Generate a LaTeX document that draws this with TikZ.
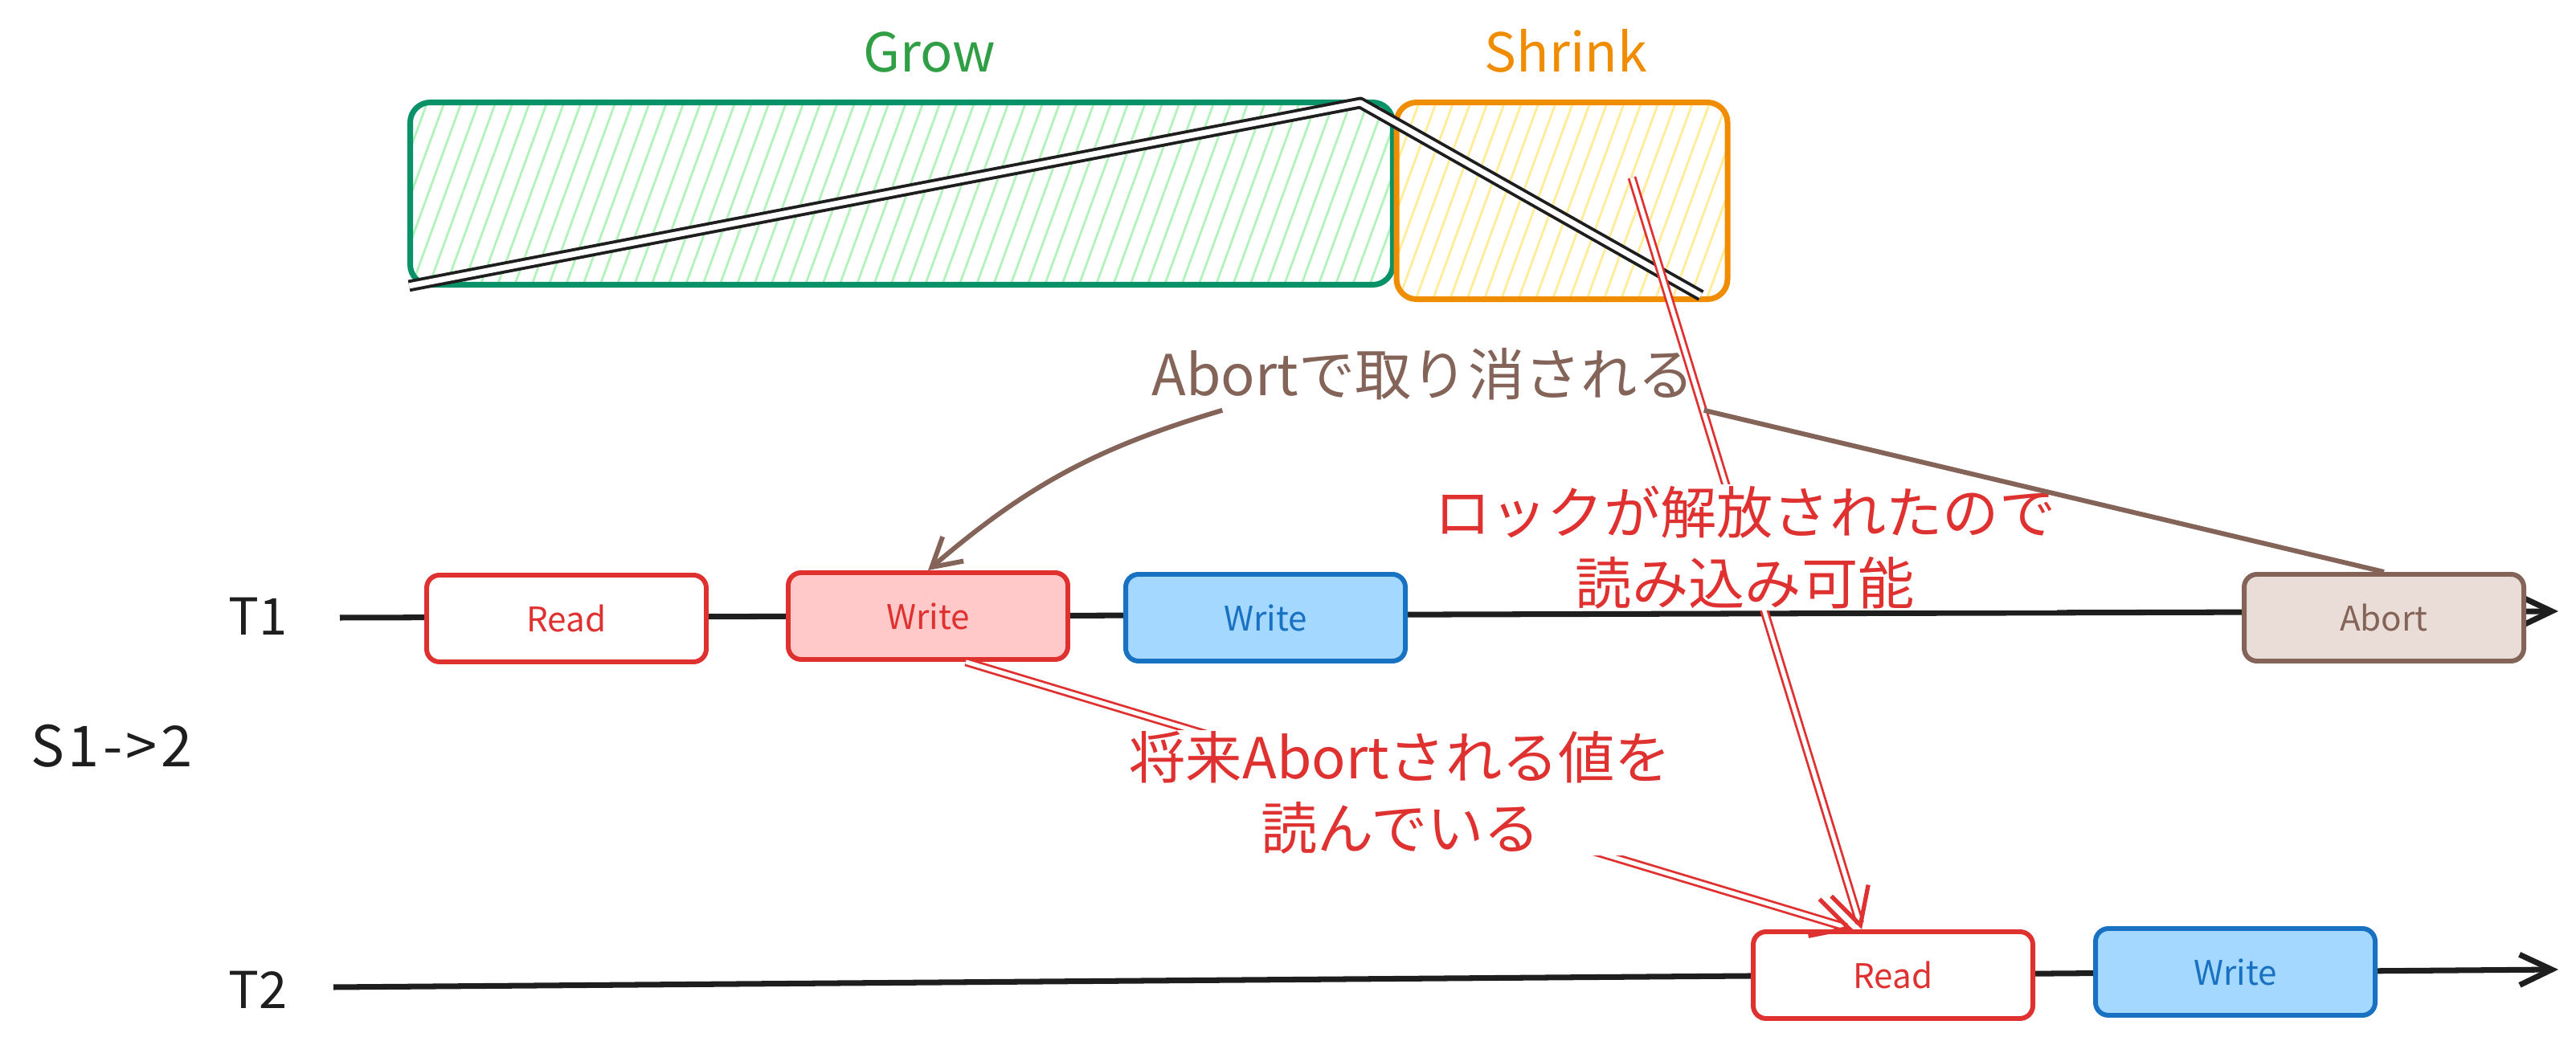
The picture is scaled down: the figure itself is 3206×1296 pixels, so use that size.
\documentclass[tikz,border=0pt]{standalone}
\usepackage{fontspec}
\setmainfont{Noto Sans CJK JP}
\usepackage{xcolor}
\usepackage{tikz}
\usetikzlibrary{arrows.meta, patterns.meta, backgrounds}

\definecolor{ink}{HTML}{1E1E1E}
\definecolor{lockred}{HTML}{E03131}
\definecolor{redfill}{HTML}{FFC9C9}
\definecolor{txblue}{HTML}{1971C2}
\definecolor{bluefill}{HTML}{A5D8FF}
\definecolor{abortbrown}{HTML}{846358}
\definecolor{brownfill}{HTML}{EADDD7}
\definecolor{growgreen}{HTML}{2F9E44}
\definecolor{growedge}{HTML}{099268}
\definecolor{growhatch}{HTML}{B2F2BB}
\definecolor{shrinkorange}{HTML}{F08C00}
\definecolor{shrinkhatch}{HTML}{FFEC99}

\begin{document}
\begin{tikzpicture}[
    x=0.1mm, y=-0.1mm,
    task/.style={draw, rounded corners=1.6mm, line width=1.7pt, minimum width=34.8mm,
                 minimum height=10.8mm, font=\fontsize{12}{14}\selectfont},
    readbox/.style={task, draw=lockred, fill=white, text=lockred},
    dirtybox/.style={task, draw=lockred, fill=redfill, text=lockred},
    writebox/.style={task, draw=txblue, fill=bluefill, text=txblue},
    abortbox/.style={task, draw=abortbrown, fill=brownfill, text=abortbrown},
    phase/.style={rounded corners=2.5mm, line width=2pt,
                  pattern={Lines[angle=70, distance=2mm, line width=0.8pt]}},
    phasetitle/.style={anchor=base, font=\fontsize{19}{22}\selectfont},
    tlabel/.style={anchor=base, text=ink, font=\fontsize{18}{20}\selectfont},
    note/.style={align=center, font=\fontsize{20}{25}\selectfont},
    rednote/.style={note, text=lockred, fill=white, inner sep=0.5pt},
    timeline/.style={-{Straight Barb[length=4mm, width=3.8mm]}, line width=2pt, draw=ink},
    lockcount/.style={draw=ink, line width=1.1pt, double=white, double distance=2pt, line join=round},
    redarr/.style={draw=lockred, line width=0.8pt, double=white, double distance=1.5pt,
                   -{Straight Barb[length=4.5mm, width=4.8mm, line width=1.5pt]}},
    brownline/.style={draw=abortbrown, line width=1.7pt}
]
\useasboundingbox (0,0) rectangle (3206,1296);

% 2PL phases
\node[phase, draw=growedge, pattern color=growhatch, minimum width=122.3mm, minimum height=22.7mm]     (grow)   at (1122,241) {};
\node[phase, draw=shrinkorange, pattern color=shrinkhatch, minimum width=41.2mm, minimum height=24.5mm] (shrink) at (1944,250) {};
\node[phasetitle, text=growgreen]    (growtitle)   at (1157,90) {Grow};
\node[phasetitle, text=shrinkorange] (shrinktitle) at (1949,90) {Shrink};

\coordinate (peak)     at (1693,128);
\coordinate (released) at (2117,368);
\draw[lockcount] (grow.south west) -- (peak) -- (released);

% transactions
\node[tlabel] (t1)    at (321,791)  {T1};
\node[tlabel] (t2)    at (321,1256) {T2};
\node[tlabel, font=\fontsize{20}{22}\selectfont] (sched) at (139,955) {\addfontfeature{LetterSpace=6}S1->2};

\node[readbox]  (read1)  at (705,770)   {Read};
\node[dirtybox] (write1) at (1155,767)  {Write};
\node[writebox] (write2) at (1575,769)  {Write};
\node[abortbox] (abort)  at (2967,769)  {Abort};
\node[readbox]  (read2)  at (2356,1214) {Read};
\node[writebox] (write3) at (2782,1210) {Write};

\coordinate (t1start) at (423,769);
\coordinate (t1end)   at (3184,761);
\coordinate (t2start) at (415,1229);
\coordinate (t2end)   at (3184,1207);
\begin{scope}[on background layer]
  \foreach \a/\b in {t1start/t1end, t2start/t2end}
    \draw[timeline] (\a) -- (\b);
\end{scope}

% notes
\node[note, text=abortbrown] (undo) at (1771,466) {Abortで取り消される};

\coordinate (lockfrom) at (2031,221);
\draw[redarr] (lockfrom) -- node[rednote, pos=0.492] (freed) {ロックが解放されたので\\読み込み可能} ([xshift=-3.9mm]read2.north);
\draw[redarr] ([xshift=4.7mm]write1.south) -- node[rednote, pos=0.49] (dirty) {将来Abortされる値を\\読んでいる} ([xshift=-5mm]read2.north);

\draw[brownline] (abort.north) -- (undo.south east);
\draw[brownline, -{Straight Barb[length=3.5mm, width=4mm]}] ([xshift=10mm]undo.south west) to[bend right=12] (write1.north);
\end{tikzpicture}
\end{document}
